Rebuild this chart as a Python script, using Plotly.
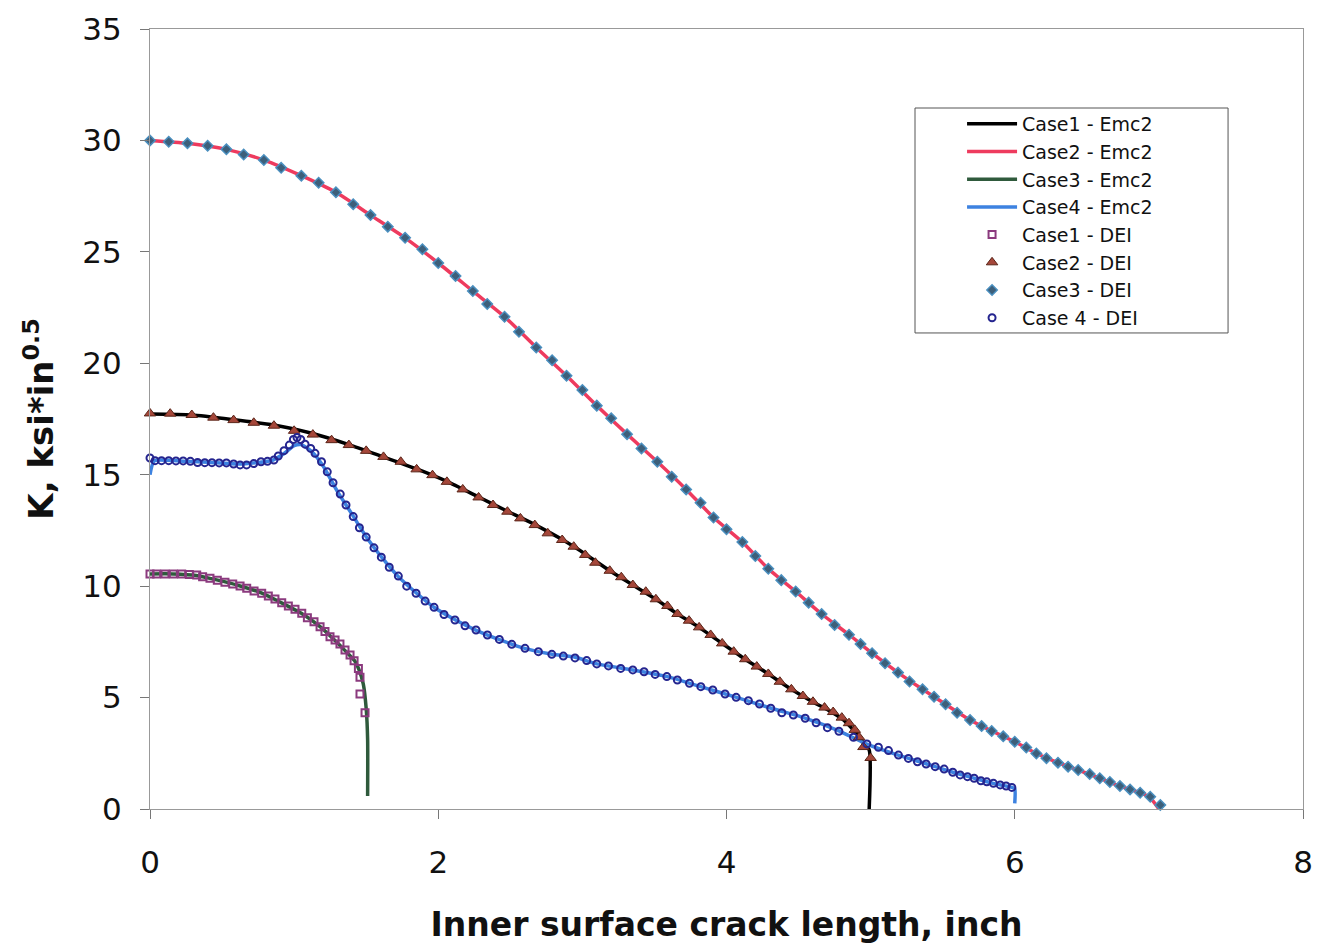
"""
Stress intensity factor K along the inner surface crack length
Emc2 solutions (lines) compared with DEI results (markers)
"""

import plotly.graph_objects as go

# ---- Emc2 curves (lines) ----
case1_emc2_x = [0, 0.29, 0.58, 0.86, 1.13, 1.38, 1.61, 1.85, 2.06, 2.28, 2.48, 2.67, 2.86,
                3.03, 3.19, 3.35, 3.51, 3.66, 3.81, 3.97, 4.13, 4.29, 4.45, 4.60, 4.71, 4.80,
                4.87, 4.92, 4.95, 4.99, 4.99]
case1_emc2_y = [17.72, 17.68, 17.47, 17.23, 16.85, 16.35, 15.82, 15.26, 14.70, 14.00, 13.36,
                12.76, 12.09, 11.40, 10.69, 10.05, 9.41, 8.75, 8.15, 7.43, 6.72, 6.06, 5.37,
                4.80, 4.42, 4.05, 3.62, 3.25, 2.95, 2.65, 0.0]

case2_emc2_x = [0, 0.26, 0.53, 0.79, 1.05, 1.29, 1.53, 1.77, 2.00, 2.24, 2.46, 2.68, 2.89,
                3.10, 3.31, 3.52, 3.72, 3.91, 4.11, 4.29, 4.48, 4.66, 4.85, 5.01, 5.19, 5.36,
                5.52, 5.69, 5.84, 6.00, 6.15, 6.30, 6.44, 6.59, 6.73, 6.87, 6.94, 7.00]
case2_emc2_y = [30.0, 29.87, 29.6, 29.12, 28.42, 27.67, 26.65, 25.63, 24.5, 23.24, 22.09,
                20.71, 19.44, 18.1, 16.82, 15.58, 14.34, 13.08, 11.98, 10.78, 9.76, 8.75,
                7.82, 6.99, 6.12, 5.37, 4.70, 3.99, 3.50, 3.02, 2.49, 2.08, 1.75, 1.38, 1.03,
                0.73, 0.50, 0.0]

case3_emc2_x = [0, 0.16, 0.32, 0.47, 0.62, 0.78, 0.91, 1.05, 1.18, 1.28, 1.35, 1.42, 1.45,
                1.48, 1.50, 1.51, 1.51]
case3_emc2_y = [10.55, 10.55, 10.48, 10.27, 10.02, 9.68, 9.26, 8.78, 8.18, 7.58, 7.13, 6.65,
                6.25, 5.6, 4.5, 3.1, 0.58]

case4_emc2_x = [0, 0.03, 0.2, 0.4, 0.6, 0.75, 0.85, 0.93, 1.0, 1.05, 1.12, 1.2, 1.3, 1.41,
                1.5, 1.61, 1.72, 1.85, 1.97, 2.12, 2.26, 2.42, 2.6, 2.79, 2.95, 3.1, 3.35,
                3.59, 3.82, 4.07, 4.31, 4.55, 4.78, 4.97, 5.19, 5.39, 5.57, 5.72, 5.85, 5.98,
                6.0, 6.0]
case4_emc2_y = [15.0, 15.62, 15.62, 15.56, 15.48, 15.55, 15.65, 15.95, 16.3, 16.35, 16.05,
                15.4, 14.25, 13.14, 12.22, 11.28, 10.45, 9.68, 9.05, 8.48, 8.03, 7.61, 7.21,
                6.94, 6.81, 6.51, 6.24, 5.94, 5.49, 5.01, 4.52, 4.07, 3.51, 2.92, 2.42, 2.02,
                1.65, 1.38, 1.15, 0.97, 0.9, 0.25]

# ---- DEI results (markers) ----
case1_dei_x = [0, 0.046, 0.104, 0.162, 0.220, 0.273, 0.324, 0.365, 0.416, 0.467, 0.520,
               0.574, 0.625, 0.671, 0.722, 0.775, 0.821, 0.867, 0.914, 0.960, 1.006, 1.053,
               1.092, 1.138, 1.180, 1.214, 1.249, 1.284, 1.318, 1.353, 1.388, 1.416, 1.446,
               1.457, 1.457, 1.492]
case1_dei_y = [10.55, 10.55, 10.55, 10.55, 10.54, 10.52, 10.50, 10.42, 10.35, 10.27, 10.17,
               10.10, 10.01, 9.90, 9.78, 9.68, 9.56, 9.42, 9.26, 9.11, 8.96, 8.78, 8.58, 8.40,
               8.18, 7.96, 7.73, 7.58, 7.40, 7.13, 6.91, 6.65, 6.31, 5.91, 5.16, 4.32]

case2_dei_x = [0, 0.14, 0.29, 0.44, 0.58, 0.72, 0.86, 1.0, 1.13, 1.26, 1.38, 1.50, 1.62,
               1.74, 1.85, 1.96, 2.06, 2.17, 2.28, 2.38, 2.48, 2.57, 2.67, 2.76, 2.86, 2.94,
               3.02, 3.09, 3.19, 3.27, 3.35, 3.44, 3.51, 3.59, 3.66, 3.74, 3.81, 3.89, 3.97,
               4.05, 4.13, 4.21, 4.29, 4.37, 4.45, 4.53, 4.60, 4.68, 4.74, 4.80, 4.85, 4.89,
               4.92, 4.95, 5.00]
case2_dei_y = [17.75, 17.74, 17.68, 17.56, 17.45, 17.33, 17.2, 16.97, 16.8, 16.55, 16.33,
               16.07, 15.80, 15.58, 15.24, 14.98, 14.68, 14.34, 13.98, 13.64, 13.34, 13.04,
               12.74, 12.37, 12.07, 11.77, 11.40, 11.05, 10.69, 10.40, 10.05, 9.75, 9.41,
               9.11, 8.75, 8.45, 8.15, 7.81, 7.43, 7.06, 6.72, 6.39, 6.06, 5.71, 5.37, 5.07,
               4.81, 4.55, 4.35, 4.10, 3.85, 3.55, 3.22, 2.78, 2.29]

case3_dei_x = [0, 0.13, 0.26, 0.40, 0.53, 0.65, 0.79, 0.91, 1.05, 1.17, 1.29, 1.41, 1.53,
               1.65, 1.77, 1.89, 2.00, 2.12, 2.24, 2.34, 2.46, 2.56, 2.68, 2.79, 2.89, 3.00,
               3.10, 3.20, 3.31, 3.41, 3.52, 3.62, 3.72, 3.82, 3.91, 4.00, 4.11, 4.20, 4.29,
               4.38, 4.48, 4.57, 4.66, 4.75, 4.85, 4.93, 5.01, 5.10, 5.19, 5.27, 5.36, 5.44,
               5.52, 5.60, 5.69, 5.77, 5.84, 5.92, 6.00, 6.08, 6.15, 6.22, 6.30, 6.37, 6.44,
               6.52, 6.59, 6.66, 6.73, 6.80, 6.87, 6.94, 7.01]
case3_dei_y = [30.0, 29.94, 29.87, 29.76, 29.6, 29.37, 29.12, 28.77, 28.42, 28.1, 27.67,
               27.14, 26.65, 26.13, 25.63, 25.12, 24.5, 23.92, 23.24, 22.66, 22.09, 21.41,
               20.71, 20.14, 19.44, 18.8, 18.1, 17.53, 16.82, 16.18, 15.58, 14.91, 14.34,
               13.74, 13.08, 12.55, 11.98, 11.35, 10.78, 10.27, 9.76, 9.26, 8.75, 8.26, 7.82,
               7.40, 6.99, 6.54, 6.12, 5.72, 5.37, 5.04, 4.70, 4.32, 3.99, 3.72, 3.50, 3.26,
               3.02, 2.76, 2.49, 2.28, 2.08, 1.90, 1.75, 1.57, 1.38, 1.21, 1.03, 0.88, 0.73,
               0.55, 0.18]

case4_dei_x = [0, 0.035, 0.08, 0.13, 0.18, 0.23, 0.28, 0.33, 0.38, 0.43, 0.48, 0.53, 0.58,
               0.625, 0.67, 0.72, 0.77, 0.815, 0.86, 0.89, 0.93, 0.967, 0.995, 1.02, 1.046,
               1.076, 1.115, 1.145, 1.19, 1.23, 1.27, 1.32, 1.36, 1.41, 1.453, 1.50, 1.554,
               1.605, 1.66, 1.723, 1.781, 1.846, 1.909, 1.971, 2.04, 2.116, 2.186, 2.262,
               2.341, 2.424, 2.51, 2.602, 2.695, 2.788, 2.868, 2.949, 3.03, 3.10, 3.181,
               3.266, 3.35, 3.428, 3.505, 3.586, 3.659, 3.743, 3.822, 3.905, 3.99, 4.067,
               4.152, 4.229, 4.307, 4.384, 4.464, 4.546, 4.622, 4.70, 4.78, 4.881, 4.974,
               5.054, 5.124, 5.193, 5.262, 5.325, 5.385, 5.448, 5.51, 5.57, 5.621, 5.672,
               5.718, 5.765, 5.806, 5.852, 5.899, 5.94, 5.98]
case4_dei_y = [15.75, 15.63, 15.63, 15.63, 15.62, 15.62, 15.60, 15.55, 15.54, 15.54, 15.53,
               15.53, 15.48, 15.44, 15.44, 15.50, 15.58, 15.6, 15.66, 15.84, 16.08, 16.33,
               16.58, 16.67, 16.58, 16.37, 16.18, 15.96, 15.58, 15.13, 14.64, 14.13, 13.64,
               13.12, 12.62, 12.2, 11.72, 11.30, 10.85, 10.45, 10.0, 9.68, 9.33, 9.05, 8.73,
               8.48, 8.22, 8.03, 7.81, 7.61, 7.39, 7.21, 7.06, 6.94, 6.86, 6.78, 6.66, 6.51,
               6.42, 6.31, 6.24, 6.16, 6.04, 5.94, 5.79, 5.64, 5.49, 5.34, 5.16, 5.01, 4.86,
               4.71, 4.52, 4.32, 4.22, 4.07, 3.87, 3.65, 3.49, 3.22, 2.92, 2.77, 2.62, 2.42,
               2.27, 2.12, 2.02, 1.90, 1.79, 1.65, 1.53, 1.45, 1.38, 1.27, 1.22, 1.15, 1.08,
               1.03, 0.97]

FONT = 'DejaVu Sans, Liberation Sans, Arial, sans-serif'
TEXT = '#111111'

fig = go.Figure()

# Lines
lines = [
    ('Case1 - Emc2', case1_emc2_x, case1_emc2_y, '#000000'),
    ('Case2 - Emc2', case2_emc2_x, case2_emc2_y, '#ee3b5e'),
    ('Case3 - Emc2', case3_emc2_x, case3_emc2_y, '#2f5a3c'),
    ('Case4 - Emc2', case4_emc2_x, case4_emc2_y, '#3d82e0'),
]
for name, xs, ys, color in lines:
    fig.add_trace(go.Scatter(
        x=xs, y=ys, mode='lines', name=name,
        line=dict(color=color, width=3.5, shape='spline', smoothing=0.6),
        cliponaxis=False
    ))

# Markers
fig.add_trace(go.Scatter(
    x=case1_dei_x, y=case1_dei_y, mode='markers', name='Case1 - DEI',
    marker=dict(symbol='square-open', size=7, color='#8b3a7e', line=dict(width=2)),
    cliponaxis=False
))
fig.add_trace(go.Scatter(
    x=case2_dei_x, y=case2_dei_y, mode='markers', name='Case2 - DEI',
    marker=dict(symbol='triangle-up', size=10, color='#a5473a',
                line=dict(width=1, color='#5a2418')),
    cliponaxis=False
))
fig.add_trace(go.Scatter(
    x=case3_dei_x, y=case3_dei_y, mode='markers', name='Case3 - DEI',
    marker=dict(symbol='diamond', size=8, color='#3d5f7a',
                line=dict(width=1.5, color='#4a8fbf')),
    cliponaxis=False
))
fig.add_trace(go.Scatter(
    x=case4_dei_x, y=case4_dei_y, mode='markers', name='Case 4 - DEI',
    marker=dict(symbol='circle-open', size=7, color='#25258f', line=dict(width=2)),
    cliponaxis=False
))

# legend frame drawn as a shape so it can be wider than the legend text
fig.add_shape(
    type='rect', xref='paper', yref='paper',
    x0=0.6635, x1=0.935, y0=0.6103, y1=0.8987,
    line=dict(color='#555555', width=1), fillcolor='white', layer='above'
)

# the page adds an 8px body margin, so the figure is sized 1312x942
fig.update_layout(
    width=1312,
    height=942,
    margin=dict(l=142, r=17, t=21, b=141),
    paper_bgcolor='white',
    plot_bgcolor='white',
    font=dict(family=FONT, color=TEXT),
    showlegend=True,
    legend=dict(
        x=0.7043, y=0.9026, xanchor='left', yanchor='top',
        bgcolor='rgba(0,0,0,0)', borderwidth=0,
        font=dict(family=FONT, size=19, color=TEXT),
        itemwidth=50,
        tracegroupgap=0
    )
)

fig.update_xaxes(
    range=[0, 8], dtick=2, tick0=0, automargin=False,
    showgrid=False, zeroline=False,
    showline=True, linecolor='#999999', linewidth=1, mirror=True,
    ticks='outside', ticklen=9, tickcolor='#777777',
    tickfont=dict(family=FONT, size=31, color=TEXT),
    ticklabelstandoff=17,
    title=dict(text='<b>Inner surface crack length, inch</b>',
               font=dict(family=FONT, size=33, color=TEXT), standoff=33)
)
fig.update_yaxes(
    range=[0, 35], dtick=5, tick0=0, automargin=False,
    showgrid=False, zeroline=False,
    showline=True, linecolor='#999999', linewidth=1, mirror=True,
    ticks='outside', ticklen=9, tickcolor='#777777',
    tickfont=dict(family=FONT, size=31, color=TEXT),
    ticklabelstandoff=12,
    title=dict(text='<b>K, ksi*in<sup>0.5</sup></b>',
               font=dict(family=FONT, size=34, color=TEXT), standoff=18)
)

fig.write_html("out.html")
